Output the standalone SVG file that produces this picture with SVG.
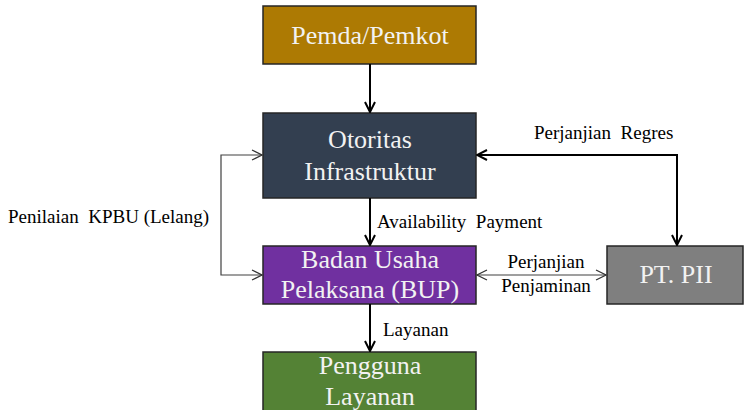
<svg xmlns="http://www.w3.org/2000/svg" width="744" height="410" viewBox="0 0 744 410">
<defs>
<marker id="ah" viewBox="0 0 12 12" refX="11" refY="6" markerWidth="12" markerHeight="12" markerUnits="userSpaceOnUse" orient="auto-start-reverse">
<path d="M1,1 L11,6 L1,11" fill="none" stroke="#000" stroke-width="2"/>
</marker>
<marker id="ahThin" viewBox="0 0 12 12" refX="11" refY="6" markerWidth="12" markerHeight="12" markerUnits="userSpaceOnUse" orient="auto-start-reverse">
<path d="M1,1 L11,6 L1,11" fill="none" stroke="#333" stroke-width="1.2"/>
</marker>
</defs>
<style>
.box{stroke:#262626;stroke-width:1.5}
.t{font-family:"Liberation Serif","Times New Roman",serif;font-size:26px;fill:#F2F2F2;text-anchor:middle}
.l{font-family:"Liberation Serif","Times New Roman",serif;font-size:19px;fill:#000;white-space:pre}
.thick{stroke:#000;stroke-width:2;fill:none}
.thin{stroke:#404040;stroke-width:1.2;fill:none}
</style>
<rect width="744" height="410" fill="#fff"/>
<g id="pemda">
<rect class="box" x="263" y="6" width="213" height="58" fill="#AD7A03"/>
<text class="t" x="370" y="44">Pemda/Pemkot</text>
</g>
<g id="otoritas">
<rect class="box" x="263" y="113" width="213" height="85" fill="#333F50"/>
<text class="t" x="370" y="148">Otoritas</text>
<text class="t" x="370" y="180">Infrastruktur</text>
</g>
<g id="bup">
<rect class="box" x="263" y="246" width="213" height="58" fill="#7030A0"/>
<text class="t" x="370" y="268">Badan Usaha</text>
<text class="t" x="370" y="298">Pelaksana (BUP)</text>
</g>
<g id="ptpii">
<rect class="box" x="607" y="246" width="136" height="58" fill="#7F7F7F"/>
<text class="t" x="676" y="283">PT. PII</text>
</g>
<g id="pengguna">
<rect class="box" x="263" y="352" width="213" height="70" fill="#548235"/>
<text class="t" x="370" y="374">Pengguna</text>
<text class="t" x="370" y="405">Layanan</text>
</g>
<g id="connectors">
<line class="thick" x1="370" y1="64" x2="370" y2="112" marker-end="url(#ah)"/>
<line class="thick" x1="370" y1="198" x2="370" y2="245" marker-end="url(#ah)"/>
<line class="thick" x1="370" y1="304" x2="370" y2="351" marker-end="url(#ah)"/>
<polyline class="thick" points="477,155 677,155 677,245" marker-start="url(#ah)" marker-end="url(#ah)"/>
<line class="thin" x1="477" y1="275" x2="606" y2="275" marker-start="url(#ahThin)" marker-end="url(#ahThin)"/>
<polyline class="thin" points="262,155 221,155 221,275 262,275" marker-start="url(#ahThin)" marker-end="url(#ahThin)"/>
</g>
<g id="labels">
<text class="l" x="534" y="139">Perjanjian  Regres</text>
<text class="l" x="377" y="228">Availability  Payment</text>
<text class="l" x="8" y="223">Penilaian  KPBU (Lelang)</text>
<text class="l" x="546" y="268" text-anchor="middle">Perjanjian</text>
<text class="l" x="546" y="292" text-anchor="middle">Penjaminan</text>
<text class="l" x="383" y="336">Layanan</text>
</g>
</svg>
